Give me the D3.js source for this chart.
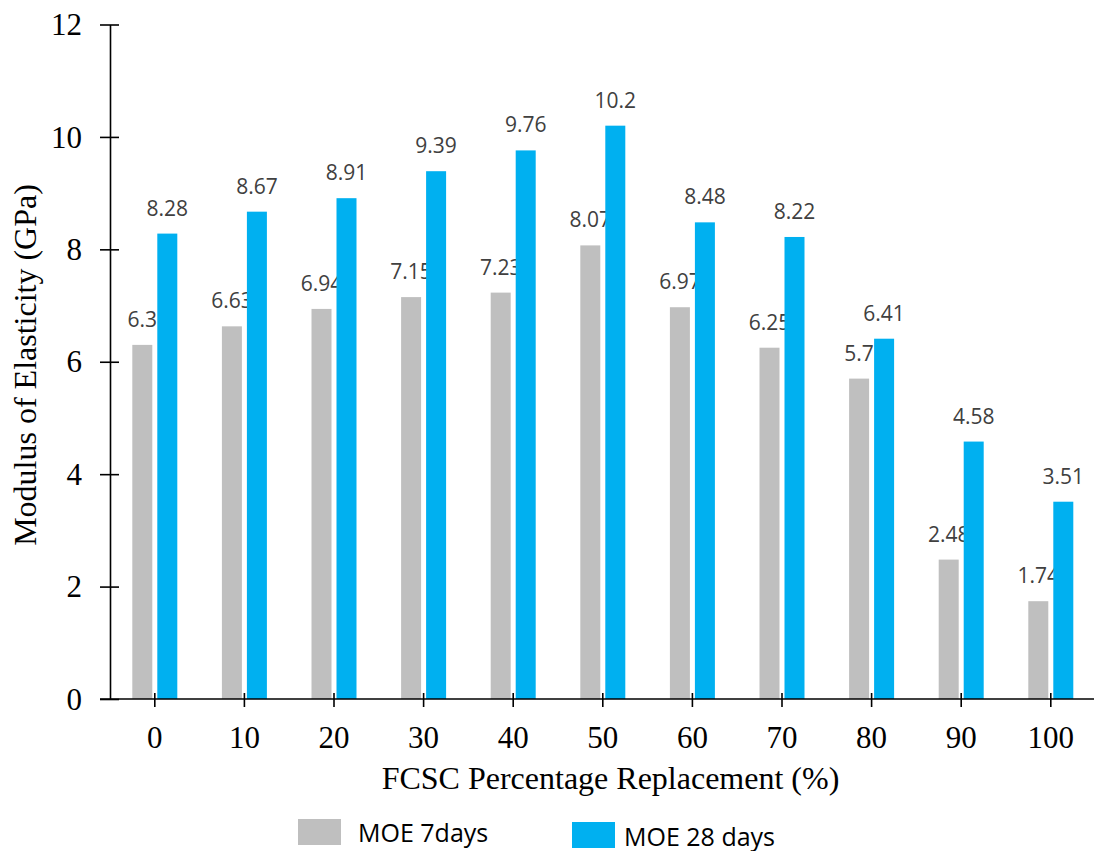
<!DOCTYPE html>
<html>
<head>
<meta charset="utf-8">
<script src="https://cdn.jsdelivr.net/npm/d3@7"></script>
<style>
  html, body { margin: 0; padding: 0; background: #fff; }
  svg { display: block; }
</style>
</head>
<body>
<svg id="chart" width="1094" height="851"></svg>
<script>
const categories = ["0", "10", "20", "30", "40", "50", "60", "70", "80", "90", "100"];
const moe7 = [6.3, 6.63, 6.94, 7.15, 7.23, 8.07, 6.97, 6.25, 5.7, 2.48, 1.74];
const moe28 = [8.28, 8.67, 8.91, 9.39, 9.76, 10.2, 8.48, 8.22, 6.41, 4.58, 3.51];
const yTicks = [0, 2, 4, 6, 8, 10, 12];
const seriesNames = ["MOE 7days", "MOE 28 days"];
const seriesColors = ["#BFBFBF", "#00B0F0"];

const svg = d3.select("#chart");

const x = d3.scaleBand().domain(categories).range([110, 1095.6]).padding(0);
const y = d3.scaleLinear().domain([0, 12]).range([699, 24.5]);

const serif = "'Liberation Serif', 'Times New Roman', serif";
const sans = "'Open Sans', 'Noto Sans', sans-serif";

// Bars
const barW = 20, gap = 2.5;
const series = [moe7, moe28];
series.forEach((vals, si) => {
  const off = si === 0 ? -gap - barW : gap;
  svg.append("g").selectAll("rect")
    .data(vals)
    .join("rect")
    .attr("x", (d, i) => x(categories[i]) + x.bandwidth() / 2 + off)
    .attr("y", d => y(d))
    .attr("width", barW)
    .attr("height", d => y(0) - y(d))
    .attr("fill", seriesColors[si]);
  svg.append("g").selectAll("text")
    .data(vals)
    .join("text")
    .attr("x", (d, i) => x(categories[i]) + x.bandwidth() / 2 + off + barW / 2)
    .attr("y", d => y(d) - 18)
    .attr("text-anchor", "middle")
    .attr("font-family", sans)
    .attr("font-size", 21)
    .attr("fill", "#404040")
    .text(d => d);
});

// Y axis
const yAxis = svg.append("g")
  .attr("transform", "translate(110,0)")
  .call(d3.axisLeft(y).tickValues(yTicks).tickSize(10).tickSizeOuter(0).tickPadding(18).tickFormat(d3.format("d")));
yAxis.select(".domain").attr("stroke", "#000").attr("stroke-width", 1.6);
yAxis.selectAll(".tick line").attr("x1", 9).attr("stroke", "#000").attr("stroke-width", 1.6);
yAxis.selectAll(".tick text")
  .attr("font-family", serif).attr("font-size", 31).attr("fill", "#000").attr("dy", "0.33em");

// X axis
const xAxis = svg.append("g")
  .attr("transform", "translate(0,699)")
  .call(d3.axisBottom(x).tickSize(8).tickSizeOuter(0));
xAxis.select(".domain").remove();
xAxis.append("line").attr("x1", 100).attr("x2", 1094).attr("y1", 0).attr("y2", 0)
  .attr("stroke", "#000").attr("stroke-width", 1.6);
xAxis.selectAll(".tick line").attr("y1", -6).attr("stroke", "#000").attr("stroke-width", 1.6);
xAxis.selectAll(".tick text")
  .attr("font-family", serif).attr("font-size", 31).attr("fill", "#000")
  .attr("y", 49).attr("dy", 0);

// Axis titles
svg.append("text")
  .attr("x", 610.5).attr("y", 789)
  .attr("text-anchor", "middle")
  .attr("font-family", serif).attr("font-size", 32).attr("fill", "#000")
  .text("FCSC Percentage Replacement (%)");

svg.append("text")
  .attr("transform", "translate(36,365) rotate(-90)")
  .attr("text-anchor", "middle")
  .attr("font-family", serif).attr("font-size", 32).attr("fill", "#000")
  .text("Modulus of Elasticity (GPa)");

// Legend
const legend = [
  { rx: 298, ry: 819, tx: 358, ty: 842 },
  { rx: 572, ry: 822, tx: 624, ty: 845.5 }
];
legend.forEach((l, i) => {
  svg.append("rect").attr("x", l.rx).attr("y", l.ry).attr("width", 43).attr("height", 26)
    .attr("fill", seriesColors[i]);
  svg.append("text").attr("x", l.tx).attr("y", l.ty)
    .attr("font-family", sans).attr("font-size", 25).attr("fill", "#000")
    .text(seriesNames[i]);
});
</script>
</body>
</html>
